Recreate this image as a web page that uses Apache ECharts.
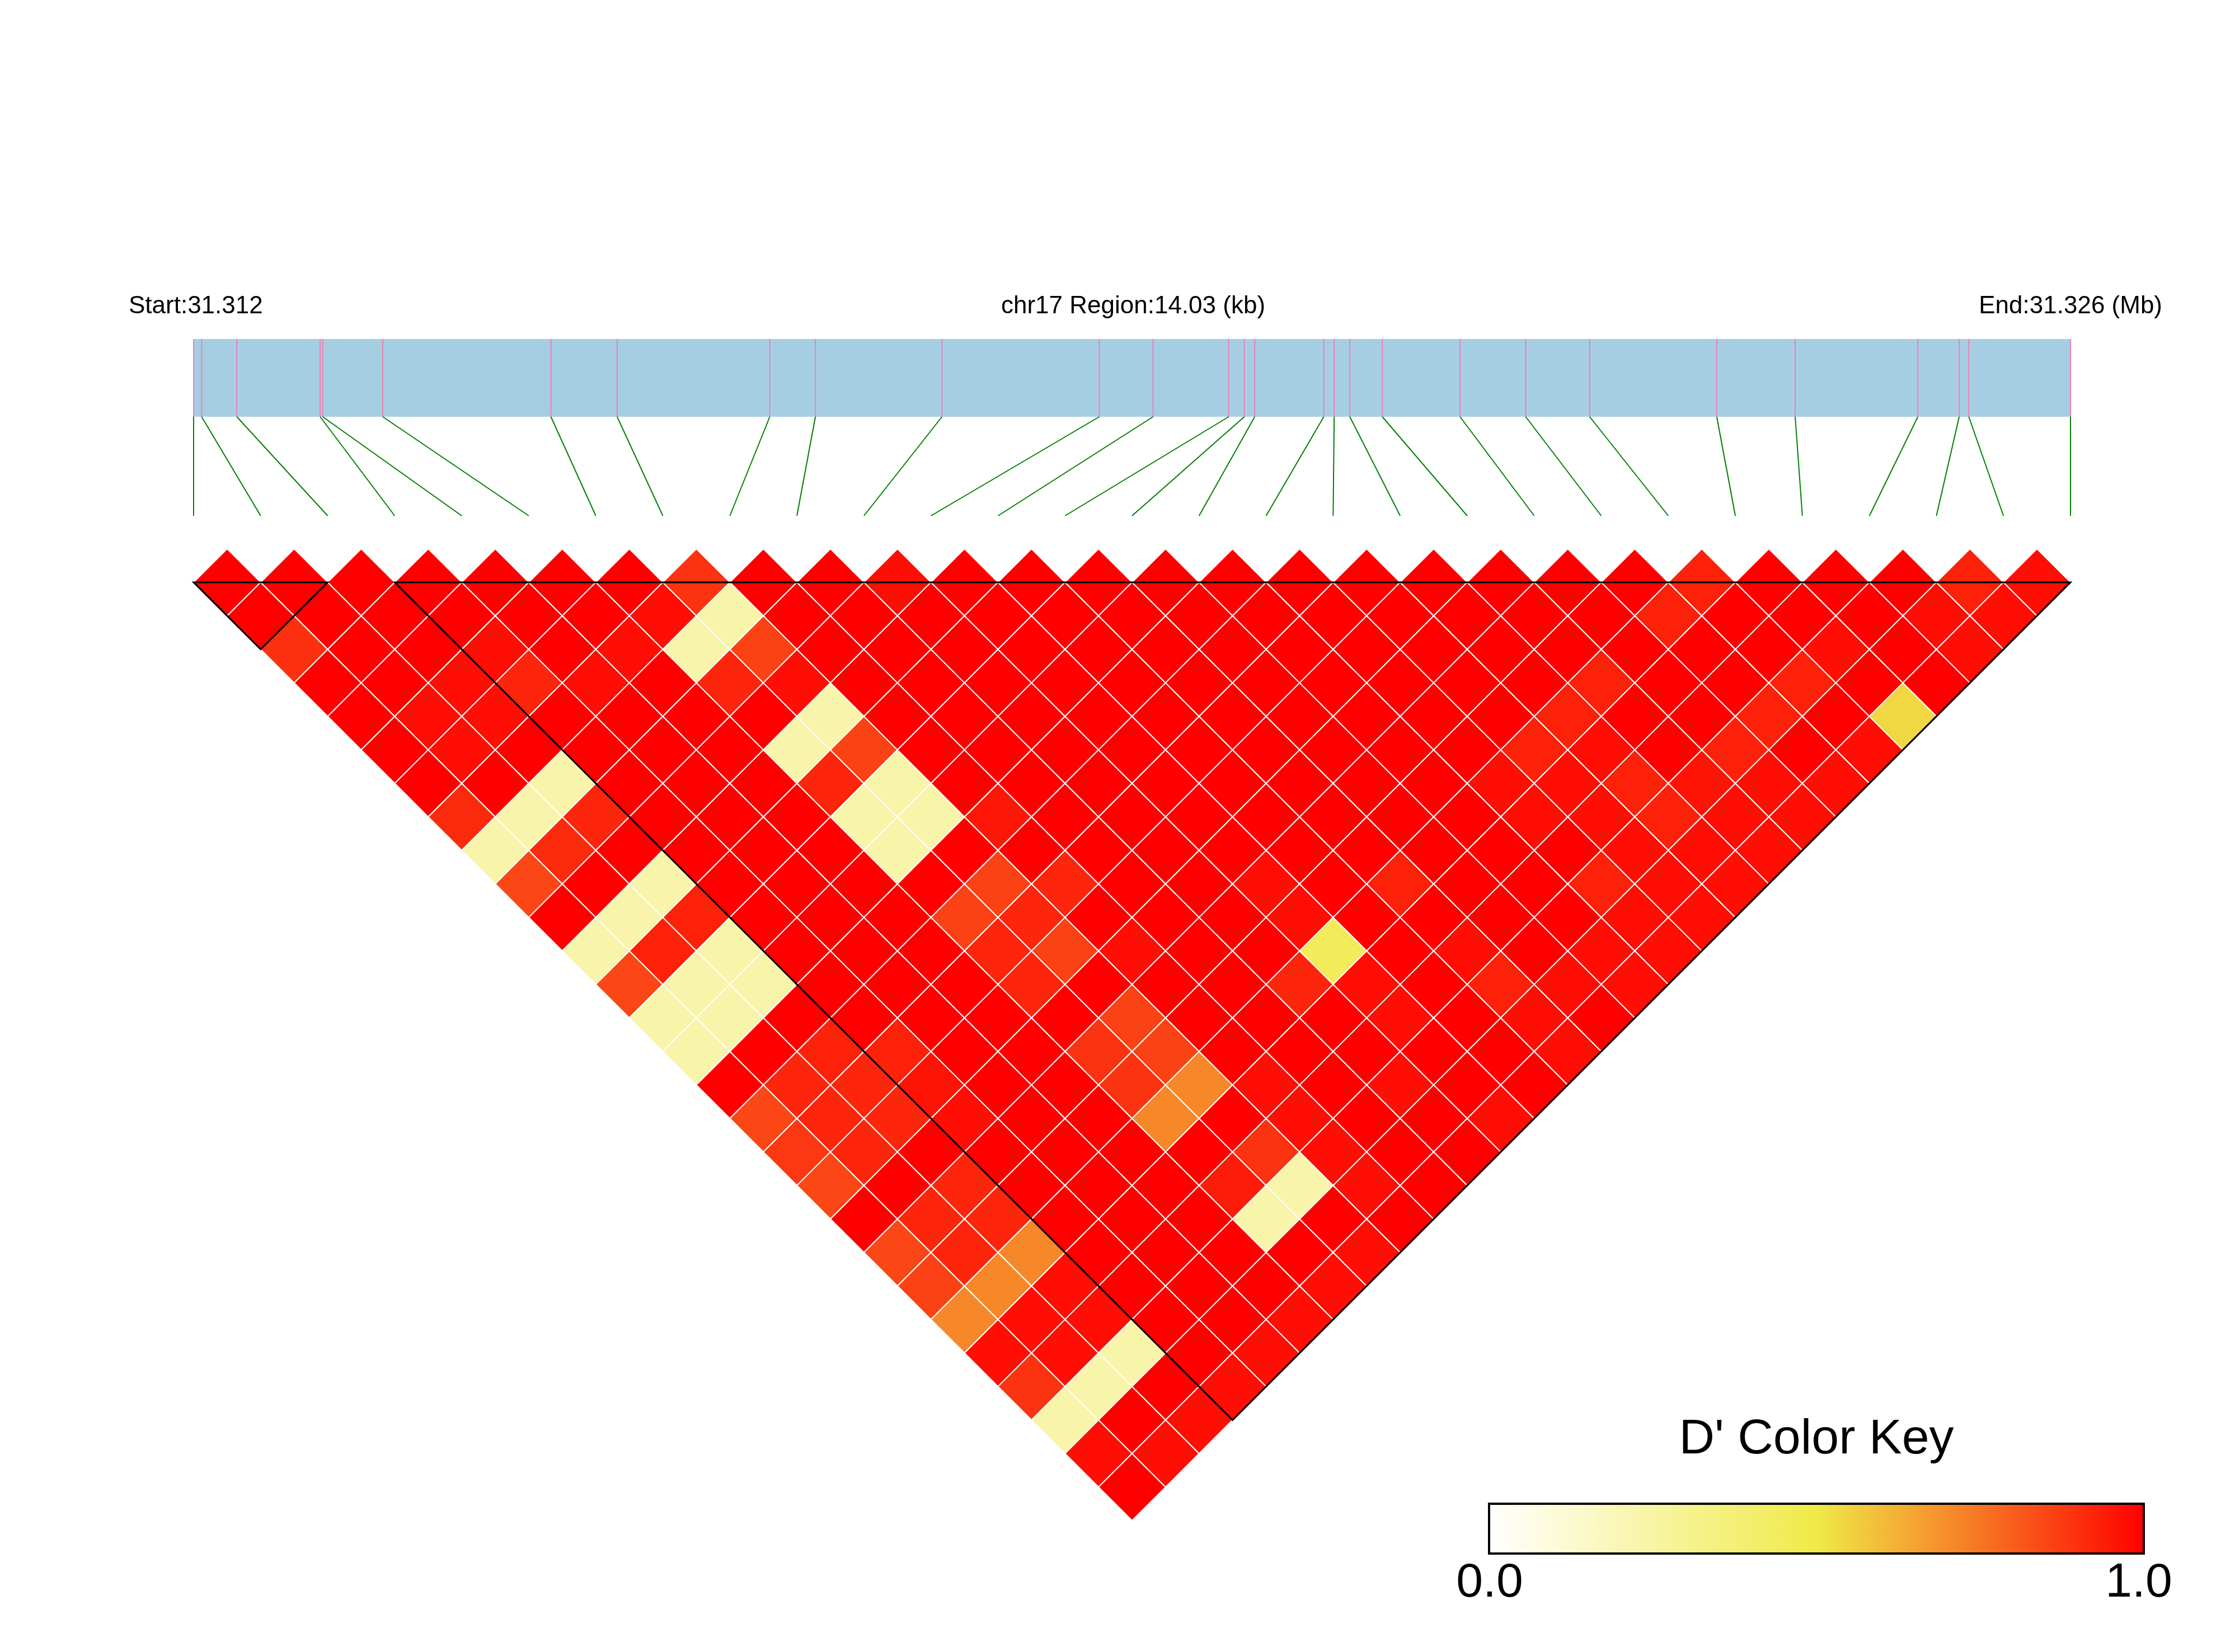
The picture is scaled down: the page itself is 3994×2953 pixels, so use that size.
<!DOCTYPE html>
<html><head><meta charset="utf-8">
<script src="https://cdn.jsdelivr.net/npm/echarts@6/dist/echarts.min.js"></script>
<style>html,body{margin:0;padding:0;background:#fff}#c{width:3994px;height:2953px}</style>
</head><body><div id="c"></div>
<script>
// ---------------- data ----------------
const chrom = 'chr17';
const regionStart = 31312100;
const regionEnd = 31326130;
const snpPositions = [31312100, 31312160, 31312423, 31313046, 31313065, 31313514, 31314771, 31315266,
  31316407, 31316748, 31317694, 31318870, 31319272, 31319837, 31319954, 31320032, 31320548, 31320626,
  31320743, 31320986, 31321567, 31322058, 31322536, 31323486, 31324072, 31324989, 31325298, 31325370, 31326130];
// D' values, row i holds pairs (i, j) for j = i+1 .. 28
const ldRows = [
  [1,1,0.90,1,1,1,1,0.91,0.23,0.85,1,0.23,0.85,0.23,0.23,1,0.85,0.88,0.85,1,0.85,0.86,0.71,0.97,0.89,0.23,0.97,1],
  [1,1,1,1,0.97,0.97,1,0.23,0.91,1,0.23,0.93,0.23,0.23,1,0.92,0.92,0.92,1,0.92,0.92,0.71,0.97,0.97,0.23,1,0.97],
  [1,1,1,0.97,0.97,1,0.23,0.92,1,0.23,0.93,0.23,0.23,1,0.93,0.92,0.92,1,0.92,0.92,0.71,0.97,0.97,0.23,1,0.97],
  [1,1,0.97,0.92,1,1,1,1,1,1,1,1,1,1,0.93,0.96,0.97,1,1,1,1,1,1,1,0.97],
  [1,1,1,0.97,1,1,1,1,1,1,1,1,1,1,1,1,1,1,1,1,1,1,1,0.97],
  [1,1,0.97,1,1,1,1,1,1,1,1,1,1,1,1,1,1,1,1,1,1,1,0.97],
  [1,0.97,0.23,0.92,1,0.23,0.92,0.23,0.23,1,0.86,0.92,0.92,1,0.89,0.89,0.71,1,0.94,0.23,1,0.97],
  [0.89,0.23,0.86,0.97,0.23,0.86,0.23,0.23,1,0.86,0.92,0.86,1,0.86,0.86,0.71,1,0.89,0.23,1,0.97],
  [1,1,1,1,1,1,1,0.95,1,0.92,1,0.97,1,1,1,0.97,0.97,0.97,0.97,1],
  [1,1,1,1,1,1,1,1,1,1,1,1,1,1,1,1,1,1,1],
  [0.97,1,1,1,1,1,1,1,1,1,1,1,0.92,1,1,0.97,1,1],
  [1,1,1,1,1,1,1,1,1,0.97,0.97,0.45,0.97,0.97,1,1,0.97],
  [1,1,1,1,1,1,1,1,1,1,1,1,1,1,1,1],
  [1,1,1,1,1,1,1,1,1,0.93,1,0.97,0.93,0.97,0.97],
  [1,1,1,1,1,1,1,1,1,1,1,1,0.97,1],
  [1,1,1,1,1,1,1,1,1,1,1,0.97,0.97],
  [1,1,1,1,1,1,0.97,0.97,1,0.93,0.97,0.97],
  [1,1,1,1,1,0.93,0.97,0.97,0.97,0.97,0.97],
  [1,1,1,1,0.93,0.97,0.93,0.93,0.97,0.97],
  [1,1,1,0.93,1,1,0.96,0.97,0.97],
  [1,1,1,1,1,0.93,0.97,0.97],
  [1,0.93,1,1,0.93,1,0.97],
  [0.93,1,1,0.93,1,0.97],
  [1,1,0.97,1,0.54],
  [1,1,1,1],
  [1,0.97,0.97],
  [0.93,0.97],
  [0.97]
];
const blocks = [[0, 2], [3, 28]];
const keyTitle = "D' Color Key";
const keyTicks = ['0.0', '1.0'];
const palette = ['#FFFFFF', '#F0EA48', '#FF0000'];

// ---------------- build ----------------
const nSnp = snpPositions.length;
const heat = [];
ldRows.forEach((row, i) => row.forEach((val, k) => {
  const j = i + 1 + k;
  heat.push([(i + j) / 2, j - i, val]);
}));

const FONT = '"Liberation Sans", Arial, sans-serif';
const BAR_H = 139;
const chart = echarts.init(document.getElementById('c'), null, {renderer: 'canvas'});

const option = {
  animation: false,
  backgroundColor: '#ffffff',
  grid: [
    {left: 346, top: 981, width: 3354, height: 1737},
    {left: 346, top: 606, width: 3354, height: 316}
  ],
  xAxis: [
    {gridIndex: 0, type: 'value', min: 0, max: nSnp - 1, show: false},
    {gridIndex: 1, type: 'value', min: regionStart, max: regionEnd, show: false}
  ],
  yAxis: [
    {gridIndex: 0, type: 'value', min: 0, max: nSnp, inverse: true, show: false},
    {gridIndex: 1, type: 'value', min: 0, max: 1, inverse: true, show: false}
  ],
  visualMap: {
    type: 'continuous', show: false, min: 0, max: 1, dimension: 2, seriesIndex: 2,
    inRange: {color: palette}
  },
  series: [
    {
      type: 'custom', name: 'region', xAxisIndex: 1, yAxisIndex: 1,
      data: [[regionStart, regionEnd]],
      renderItem: function (params, api) {
        const cs = params.coordSys;
        const a = api.coord([api.value(0), 0]);
        const b = api.coord([api.value(1), 0]);
        return {type: 'rect', shape: {x: a[0], y: cs.y, width: b[0] - a[0], height: BAR_H},
          style: {fill: '#A6CEE3'}};
      }
    },
    {
      type: 'custom', name: 'snps', xAxisIndex: 1, yAxisIndex: 1,
      data: snpPositions.map((p, i) => [p, i]),
      renderItem: function (params, api) {
        const cs = params.coordSys;
        const x = api.coord([api.value(0), 0])[0];
        let xb;
        try { xb = chart.convertToPixel({xAxisIndex: 0}, api.value(1)); } catch (e) { xb = null; }
        if (xb == null || isNaN(xb)) {
          xb = api.coord([regionStart + api.value(1) / (nSnp - 1) * (regionEnd - regionStart), 0])[0];
        }
        const yb = cs.y + BAR_H;
        return {type: 'group', children: [
          {type: 'line', shape: {x1: x, y1: cs.y, x2: x, y2: yb},
            style: {stroke: '#EE7FB2', lineWidth: 2}},
          {type: 'line', shape: {x1: x, y1: yb, x2: xb, y2: cs.y + cs.height},
            style: {stroke: '#008000', lineWidth: 2}}
        ]};
      }
    },
    {
      type: 'custom', name: 'ld', xAxisIndex: 0, yAxisIndex: 0,
      data: heat,
      renderItem: function (params, api) {
        const u = api.value(0), v = api.value(1);
        const pts = [api.coord([u - 0.5, v]), api.coord([u, v - 1]), api.coord([u + 0.5, v]), api.coord([u, v + 1])];
        return {type: 'polygon', shape: {points: pts},
          style: {fill: api.visual('color'), stroke: '#FFFFFF', lineWidth: 2}};
      }
    },
    {
      type: 'custom', name: 'blocks', xAxisIndex: 0, yAxisIndex: 0, z: 5,
      data: blocks,
      renderItem: function (params, api) {
        const a = api.value(0), b = api.value(1);
        const pts = [api.coord([a, 1]), api.coord([(a + b) / 2, b - a + 1]), api.coord([b, 1])];
        return {type: 'polygon', shape: {points: pts},
          style: {fill: 'none', stroke: '#000000', lineWidth: 3}};
      }
    }
  ],
  graphic: [
    {type: 'text', x: 230, y: 548, style: {text: 'Start:' + (regionStart / 1e6).toFixed(3),
      font: '44px ' + FONT, fill: '#000', align: 'left', verticalAlign: 'middle', textAlign: 'left', textVerticalAlign: 'middle'}},
    {type: 'text', x: 2025, y: 548, style: {text: chrom + ' Region:' + ((regionEnd - regionStart) / 1000).toFixed(2) + ' (kb)',
      font: '44px ' + FONT, fill: '#000', align: 'center', verticalAlign: 'middle', textAlign: 'center', textVerticalAlign: 'middle'}},
    {type: 'text', x: 3864, y: 548, style: {text: 'End:' + (regionEnd / 1e6).toFixed(3) + ' (Mb)',
      font: '44px ' + FONT, fill: '#000', align: 'right', verticalAlign: 'middle', textAlign: 'right', textVerticalAlign: 'middle'}},
    {type: 'text', x: 3246, y: 2574, style: {text: keyTitle,
      font: '88px ' + FONT, fill: '#000', align: 'center', verticalAlign: 'middle', textAlign: 'center', textVerticalAlign: 'middle'}},
    {type: 'rect', shape: {x: 2661, y: 2688, width: 1170, height: 89},
      style: {fill: new echarts.graphic.LinearGradient(0, 0, 1, 0, [
        {offset: 0, color: palette[0]}, {offset: 0.5, color: palette[1]}, {offset: 1, color: palette[2]}]),
        stroke: '#000', lineWidth: 4}},
    {type: 'text', x: 2662, y: 2830, style: {text: keyTicks[0],
      font: '86px ' + FONT, fill: '#000', align: 'center', verticalAlign: 'middle', textAlign: 'center', textVerticalAlign: 'middle'}},
    {type: 'text', x: 3822, y: 2830, style: {text: keyTicks[1],
      font: '86px ' + FONT, fill: '#000', align: 'center', verticalAlign: 'middle', textAlign: 'center', textVerticalAlign: 'middle'}}
  ]
};
chart.setOption(option);
</script>
</body></html>
